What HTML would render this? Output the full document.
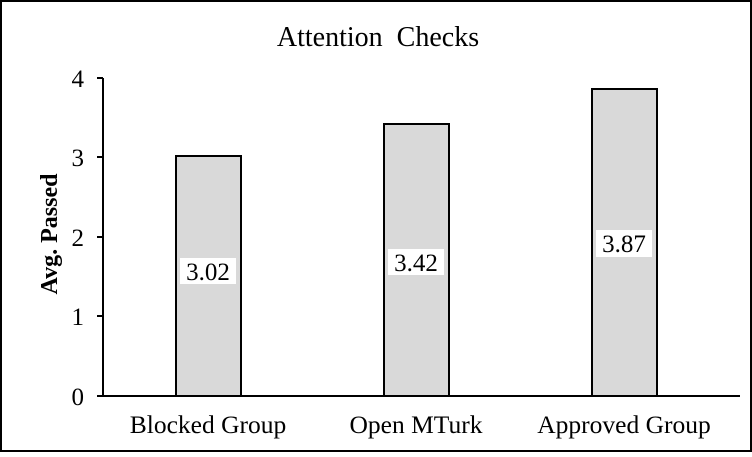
<!DOCTYPE html>
<html><head><style>
html,body{margin:0;padding:0;background:#fff}
text{font-family:"Liberation Serif",serif}
</style></head><body>
<svg width="752" height="452" xmlns="http://www.w3.org/2000/svg">
<rect x="1" y="1" width="750" height="450" fill="#fff" stroke="#000" stroke-width="2"/>
<text x="378" y="46" font-size="28" text-anchor="middle" xml:space="preserve">Attention  Checks</text>
<g stroke="#000" stroke-width="2" fill="none">
<line x1="103" y1="78" x2="103" y2="396"/>
<line x1="97" y1="396" x2="740" y2="396"/>
<line x1="97" y1="78" x2="103" y2="78"/>
<line x1="97" y1="157" x2="103" y2="157"/>
<line x1="97" y1="237" x2="103" y2="237"/>
<line x1="97" y1="316" x2="103" y2="316"/>
</g>
<g font-size="25" text-anchor="end">
<text x="84" y="87">4</text><text x="84" y="166">3</text><text x="84" y="246">2</text><text x="84" y="325">1</text><text x="84" y="405">0</text>
</g>
<text transform="translate(57,234) rotate(-90)" font-size="24" font-weight="bold" text-anchor="middle">Avg. Passed</text>
<g fill="#d9d9d9" stroke="#000" stroke-width="2">
<rect x="176" y="156" width="65" height="240"/>
<rect x="384" y="124" width="65" height="272"/>
<rect x="592" y="89" width="65" height="307"/>
</g>
<g fill="#fff">
<rect x="180" y="258" width="56" height="26"/>
<rect x="388" y="249" width="56" height="26"/>
<rect x="596" y="230" width="56" height="27"/>
</g>
<g font-size="25" text-anchor="middle">
<text x="208" y="280">3.02</text>
<text x="416" y="271">3.42</text>
<text x="624" y="252">3.87</text>
</g>
<g font-size="25.5" text-anchor="middle">
<text x="208" y="433">Blocked Group</text>
<text x="416" y="433">Open MTurk</text>
<text x="624" y="433">Approved Group</text>
</g>
</svg>
</body></html>
